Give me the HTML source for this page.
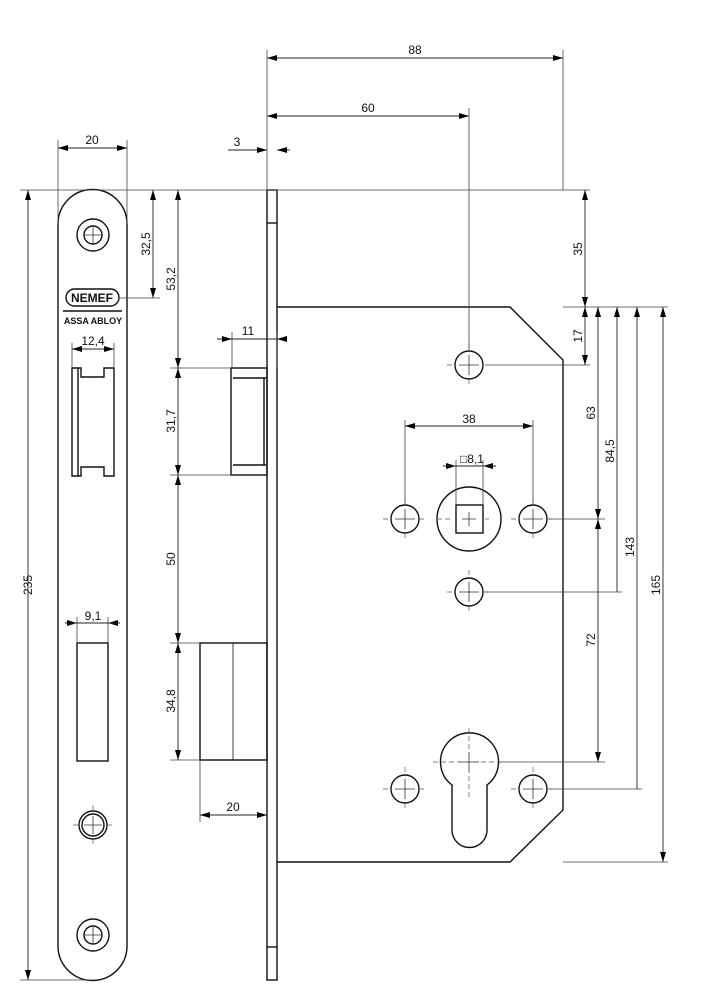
<!DOCTYPE html>
<html><head><meta charset="utf-8"><style>html,body{margin:0;padding:0;background:#fff}svg{display:block}</style></head>
<body>
<svg width="707" height="1000" viewBox="0 0 707 1000" xmlns="http://www.w3.org/2000/svg" font-family="Liberation Sans, sans-serif" font-size="12" fill="none">
<defs>
<marker id="a" viewBox="0 0 10 6" refX="10" refY="3" markerWidth="10" markerHeight="6" markerUnits="userSpaceOnUse" orient="auto-start-reverse"><path d="M0,0 L10,3 L0,6 Z" fill="#000"/></marker>
</defs>
<g stroke="#111" stroke-width="1.4">
<path d="M58,224 A34.5,34.5 0 0 1 127,224 V946 A34.5,34.5 0 0 1 58,946 Z"/>
<circle cx="93" cy="235" r="16"/><circle cx="93" cy="235" r="9"/>
<circle cx="93" cy="935" r="16"/><circle cx="93" cy="935" r="9"/>
<circle cx="93" cy="825" r="14"/><circle cx="93" cy="825" r="11"/>
<path d="M72,368 H81 V377 H104 V368 H114 V476 H104 V467 H81 V476 H72 Z"/>
<line x1="78" y1="368" x2="78" y2="476"/>
<rect x="77" y="643" width="31" height="118"/>
<rect x="66" y="289" width="53" height="17" rx="8.5"/>
<line x1="63" y1="311" x2="122" y2="311"/>
<rect x="267" y="190" width="10" height="790"/>
<line x1="267" y1="223" x2="277" y2="223"/><line x1="267" y1="947" x2="277" y2="947"/>
<path d="M277,307 H510 L563,360 V810 L510,862 H277"/>
<rect x="231" y="368" width="36" height="107"/>
<line x1="233" y1="378" x2="266" y2="378"/><line x1="233" y1="465" x2="266" y2="465"/>
<line x1="264" y1="378" x2="264" y2="465"/>
<rect x="200" y="643" width="67" height="117"/>
<line x1="233" y1="643" x2="233" y2="760" stroke-width="0.8"/>
<circle cx="469" cy="365" r="14"/>
<circle cx="405" cy="519" r="14"/><circle cx="533" cy="519" r="14"/>
<circle cx="469" cy="519" r="32"/>
<rect x="456" y="505" width="27" height="28"/>
<circle cx="469" cy="592" r="14"/>
<circle cx="405" cy="789" r="14"/><circle cx="533" cy="789" r="14"/>
<path d="M452,785 A29,29 0 1 1 487,785 V830 A17.5,17.5 0 0 1 452,830 Z"/>
</g>
<g stroke="#333" stroke-width="0.8">
<path d="M84,235h18M93,226v18M84,935h18M93,926v18M84,825h18M93,816v18"/>
<path d="M459,365h20M469,355v20M395,519h20M405,509v20M523,519h20M533,509v20M459,592h20M469,582v20M395,789h20M405,779v20M523,789h20M533,779v20M462,519h14M469,512v14M459,762h20M469,752v20"/>
</g>
<g stroke="#555" stroke-width="0.7" stroke-dasharray="5,3">
<path d="M383,519h8M419,519h8M405,497v8M405,533v8M511,519h8M547,519h8M533,497v8M533,533v8M447,592h8M483,592h8M469,570v8M469,606v8M447,365h8M469,343v8M469,379v8M383,789h8M419,789h8M405,767v8M405,803v8M511,789h8M547,789h8M533,767v8M533,803v8M433,762h72M469,728v72M73,825h6M107,825h6M93,805v6M93,839v6M437,519h16M485,519h4"/>
</g>
<g stroke="#444" stroke-width="0.8">
<path d="M267,50V190M563,50V190M469,108V350M58,140V224M127,140V224M20,190H170M20,980H93M127,190H160M120,298H160M170,190H277M170,368H231M170,475H231M170,643H200M170,760H200M200,760V822M277,190H590M563,307H668M485,365H590M549,519H605M485,592H622M498,762H605M549,789H642M563,862H668M405,420V505M533,420V505M456,460V505M483,460V505M232,332V368M277,332V368M72,343V368M114,343V368M77,617V643M108,617V643"/>
</g>
<g stroke="#222" stroke-width="0.9">
<line x1="267" y1="58" x2="563" y2="58" marker-start="url(#a)" marker-end="url(#a)"/>
<line x1="267" y1="116" x2="469" y2="116" marker-start="url(#a)" marker-end="url(#a)"/>
<line x1="228" y1="150" x2="267" y2="150" marker-end="url(#a)"/>
<line x1="290" y1="150" x2="277" y2="150" marker-end="url(#a)"/>
<line x1="58" y1="148" x2="127" y2="148" marker-start="url(#a)" marker-end="url(#a)"/>
<line x1="28" y1="190" x2="28" y2="980" marker-start="url(#a)" marker-end="url(#a)"/>
<line x1="153" y1="190" x2="153" y2="298" marker-start="url(#a)" marker-end="url(#a)"/>
<line x1="178" y1="190" x2="178" y2="368" marker-start="url(#a)" marker-end="url(#a)"/>
<line x1="178" y1="368" x2="178" y2="475" marker-start="url(#a)" marker-end="url(#a)"/>
<line x1="178" y1="475" x2="178" y2="643" marker-start="url(#a)" marker-end="url(#a)"/>
<line x1="178" y1="643" x2="178" y2="760" marker-start="url(#a)" marker-end="url(#a)"/>
<line x1="200" y1="815" x2="267" y2="815" marker-start="url(#a)" marker-end="url(#a)"/>
<line x1="217" y1="339" x2="281" y2="339"/>
<line x1="220" y1="339" x2="232" y2="339" marker-end="url(#a)"/>
<line x1="281" y1="339" x2="277" y2="339" marker-end="url(#a)"/>
<line x1="72" y1="349" x2="114" y2="349" marker-start="url(#a)" marker-end="url(#a)"/>
<line x1="65" y1="623" x2="77" y2="623" marker-end="url(#a)"/>
<line x1="120" y1="623" x2="108" y2="623" marker-end="url(#a)"/>
<line x1="65" y1="623" x2="120" y2="623"/>
<line x1="405" y1="426" x2="533" y2="426" marker-start="url(#a)" marker-end="url(#a)"/>
<line x1="443" y1="466" x2="456" y2="466" marker-end="url(#a)"/>
<line x1="496" y1="466" x2="483" y2="466" marker-end="url(#a)"/>
<line x1="443" y1="466" x2="496" y2="466"/>
<line x1="585" y1="190" x2="585" y2="307" marker-start="url(#a)" marker-end="url(#a)"/>
<line x1="585" y1="307" x2="585" y2="365" marker-start="url(#a)" marker-end="url(#a)"/>
<line x1="598" y1="307" x2="598" y2="519" marker-start="url(#a)" marker-end="url(#a)"/>
<line x1="598" y1="519" x2="598" y2="762" marker-start="url(#a)" marker-end="url(#a)"/>
<line x1="617" y1="307" x2="617" y2="592" marker-start="url(#a)"/>
<line x1="637" y1="307" x2="637" y2="789" marker-start="url(#a)"/>
<line x1="663" y1="307" x2="663" y2="862" marker-start="url(#a)" marker-end="url(#a)"/>
</g>
<g fill="#111" text-anchor="middle" stroke="none">
<text x="415" y="54">88</text>
<text x="368" y="112">60</text>
<text x="237" y="146">3</text>
<text x="92" y="144">20</text>
<text x="248" y="335">11</text>
<text x="93" y="345">12,4</text>
<text x="93" y="620">9,1</text>
<text x="469" y="423">38</text>
<text x="472" y="463">□8,1</text>
<text x="233" y="811">20</text>
<text x="92" y="302" font-size="12" font-weight="bold">NEMEF</text>
<text x="93" y="324" font-size="9" font-weight="bold">ASSA ABLOY</text>
<text transform="translate(32,585) rotate(-90)">235</text>
<text transform="translate(150,244) rotate(-90)">32,5</text>
<text transform="translate(175,279) rotate(-90)">53,2</text>
<text transform="translate(175,421) rotate(-90)">31,7</text>
<text transform="translate(175,559) rotate(-90)">50</text>
<text transform="translate(175,701) rotate(-90)">34,8</text>
<text transform="translate(582,249) rotate(-90)">35</text>
<text transform="translate(582,336) rotate(-90)">17</text>
<text transform="translate(595,413) rotate(-90)">63</text>
<text transform="translate(595,640) rotate(-90)">72</text>
<text transform="translate(614,451) rotate(-90)">84,5</text>
<text transform="translate(634,547) rotate(-90)">143</text>
<text transform="translate(660,585) rotate(-90)">165</text>
</g>
</svg>
</body></html>
